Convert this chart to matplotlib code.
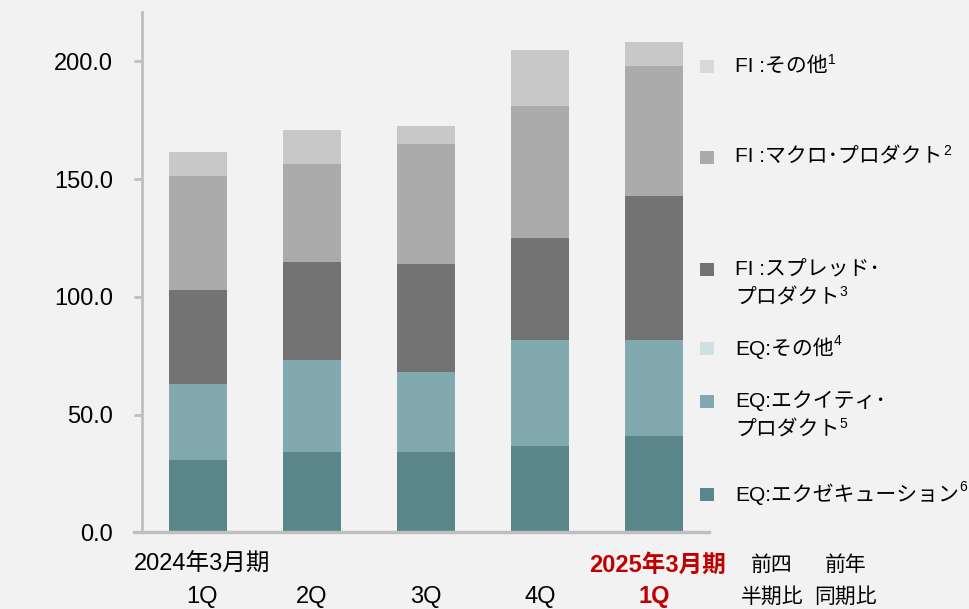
import matplotlib
matplotlib.use("Agg")
import matplotlib.pyplot as plt
from matplotlib.patches import Rectangle
from matplotlib.lines import Line2D
import matplotlib.transforms as mtransforms

plt.rcParams['font.family'] = ['Liberation Sans', 'Noto Sans CJK JP', 'DejaVu Sans']

# ---- data ----
quarters = ["1Q", "2Q", "3Q", "4Q", "1Q"]
period_labels = ["2024年3月期", "2025年3月期"]
eq_execution = [30.7, 34.1, 34.1, 36.7, 40.9]
eq_equity = [32.3, 39.1, 34.0, 45.0, 40.8]
eq_other = [0.0, 0.0, 0.0, 0.0, 0.0]
fi_spread = [39.9, 41.6, 45.9, 43.3, 61.2]
fi_macro = [48.5, 41.7, 50.9, 56.1, 55.2]
fi_other = [10.2, 14.4, 7.7, 23.8, 10.1]
yticks = [0, 50, 100, 150, 200]
compare_headers = [("前四", "半期比"), ("前年", "同期比")]

series = [eq_execution, eq_equity, eq_other, fi_spread, fi_macro, fi_other]
colors = ["#5a8589", "#82aaae", "#cde0e2", "#737373", "#ababab", "#c8c8c8"]
legend_colors = ["#5a8589", "#82aaae", "#cde0e2", "#737373", "#ababab", "#d9d9d9"]
BG = "#f2f2f2"
SPINE = "#bfbfbf"
RED = "#c00000"

W, H = 970, 609
fig = plt.figure(figsize=(9.7, 6.09), dpi=100, facecolor=BG)
ax = fig.add_axes([142/W, (H-532.3)/H, (709-142)/W, (532.3-12)/H])
ax.set_facecolor(BG)

x = list(range(len(quarters)))
bottom = [0.0]*len(x)
for vals, c in zip(series, colors):
    ax.bar(x, vals, width=0.51, bottom=bottom, color=c, edgecolor='none', zorder=2)
    bottom = [b+v for b, v in zip(bottom, vals)]

ax.set_xlim(-0.49, 4.48)
ax.set_ylim(0, 221)
ax.set_yticks(yticks)
ax.set_yticklabels([f"{v:.1f}" for v in yticks], fontsize=17, color='black')
ax.tick_params(axis='y', length=5.8, width=2, color=SPINE, pad=15)
ax.set_xticks([])
for s in ['top', 'right', 'bottom']:
    ax.spines[s].set_visible(False)
ax.spines['left'].set_color(SPINE)
ax.spines['left'].set_linewidth(2)

# bottom axis line extending past the y spine
fig.add_artist(Line2D([134/W, 709/W], [(H-532.3)/H]*2, color=SPINE, lw=2.5,
                      transform=fig.transFigure, zorder=5))

trans = mtransforms.blended_transform_factory(ax.transData, ax.transAxes)
y_q = (532.3-597)/520.3
y_p = (532.3-565)/520.3
for i, q in enumerate(quarters):
    last = (i == len(quarters)-1)
    ax.text(i + (0.04 if i == 0 else 0.0), y_q, q, transform=trans, ha='center', va='center',
            fontsize=17, color=RED if last else 'black',
            fontweight='bold' if last else 'normal', clip_on=False)
ax.text(0.04, y_p, period_labels[0], transform=trans, ha='center', va='center',
        fontsize=17, color='black', clip_on=False)
ax.text(4.03, y_p, period_labels[1], transform=trans, ha='center', va='center',
        fontsize=17, color=RED, fontweight='bold', clip_on=False)
for xp, (h1, h2) in zip([5.03, 5.68], compare_headers):
    ax.text(xp, y_p, h1, transform=trans, ha='center', va='center',
            fontsize=15, color='black', clip_on=False)
    ax.text(xp, y_q, h2, transform=trans, ha='center', va='center',
            fontsize=15, color='black', clip_on=False)

# ---- legend (manual) ----
legend_items = [
    (["FI :その他"], "1", 5, 66),
    (["FI :マクロ･プロダクト"], "2", 4, 157),
    (["FI :スプレッド･", "プロダクト"], "3", 3, 269),
    (["EQ:その他"], "4", 2, 348),
    (["EQ:エクイティ･", "プロダクト"], "5", 1, 401),
    (["EQ:エクゼキューション"], "6", 0, 494),
]
for lines, sup, ci, yc in legend_items:
    fig.add_artist(Rectangle((700/W, 1-(yc+7)/H), 14/W, 13/H, transform=fig.transFigure,
                             facecolor=legend_colors[ci], edgecolor='none'))
    t = None
    for k, ln in enumerate(lines):
        t = fig.text(735/W, 1-(yc + k*29)/H, ln, ha='left', va='center', fontsize=15, color='black')
    ax.annotate(sup, xy=(1, 1), xycoords=t, ha='left', va='top', fontsize=10,
                xytext=(0.3, 2.5), textcoords='offset points', annotation_clip=False)

fig.savefig("out.png", dpi=100, facecolor=BG)
